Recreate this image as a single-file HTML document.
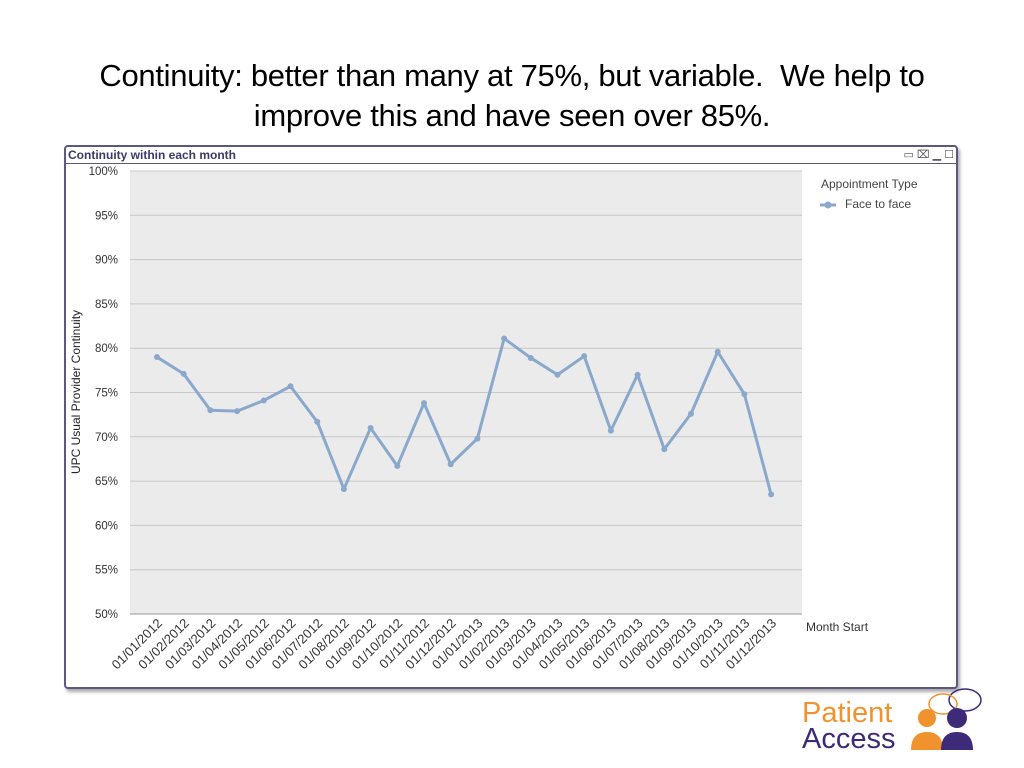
<!DOCTYPE html>
<html><head><meta charset="utf-8"><style>
body{margin:0;width:1024px;height:768px;background:#fff;font-family:"Liberation Sans",sans-serif;position:relative;overflow:hidden}
#title{position:absolute;left:0;width:1024px;top:56px;text-align:center;font-size:31px;line-height:40px;color:#000;font-family:"Liberation Sans",sans-serif;letter-spacing:-0.3px}
#box{position:absolute;left:64px;top:145px;width:890px;height:540px;border:2px solid #5c5880;border-radius:4px;box-shadow:2px 3px 3px #aaa;background:#fff}
#bar{position:absolute;left:0;top:0;right:0;height:16px;border-bottom:1px solid #5c5880;font-weight:bold;font-size:12px;color:#3b3a6b;padding-left:2px;line-height:16px}
</style></head><body>
<div id="title">Continuity: better than many at 75%, but variable.&nbsp; We help to<br>improve this and have seen over 85%.</div>
<div id="box">
<div id="bar">Continuity within each month</div>
<div style="position:absolute;right:2px;top:1px;font-size:11px;color:#555">▭ ⌧ ▁ ☐</div>
</div>
<svg id="chart" width="1024" height="768" style="position:absolute;left:0;top:0"></svg>
<div style="position:absolute;left:802px;top:700px;font-size:29px;line-height:26px;">
<div style="color:#f0922e">Patient</div><div style="color:#3d2a78">Access</div></div>
<svg width="80" height="70" style="position:absolute;left:905px;top:688px">
<ellipse cx="60" cy="12" rx="16" ry="11" fill="none" stroke="#3d2a78" stroke-width="1.5"/>
<ellipse cx="38" cy="16" rx="14" ry="10" fill="none" stroke="#f0922e" stroke-width="1.5"/>
<circle cx="22" cy="30" r="9" fill="#f0922e"/><path d="M6 62 Q6 44 22 44 Q38 44 38 62Z" fill="#f0922e"/>
<circle cx="52" cy="30" r="10" fill="#3d2a78"/><path d="M36 62 Q36 44 52 44 Q68 44 68 62Z" fill="#3d2a78"/>
</svg>
<script>
const categories=["01/01/2012","01/02/2012","01/03/2012","01/04/2012","01/05/2012","01/06/2012","01/07/2012","01/08/2012","01/09/2012","01/10/2012","01/11/2012","01/12/2012","01/01/2013","01/02/2013","01/03/2013","01/04/2013","01/05/2013","01/06/2013","01/07/2013","01/08/2013","01/09/2013","01/10/2013","01/11/2013","01/12/2013"];
const values=[79.0,77.1,73.0,72.9,74.1,75.7,71.7,64.1,71.0,66.7,73.8,66.9,69.8,81.1,78.9,77.0,79.1,70.7,77.0,68.6,72.6,79.6,74.8,63.5];
const yTicks=[50,55,60,65,70,75,80,85,90,95,100];
const svg=document.getElementById('chart');const NS='http://www.w3.org/2000/svg';
const L=130,R=802,T=171,B=614,ymin=50,ymax=100;
const y=v=>B-(v-ymin)/(ymax-ymin)*(B-T);
const step=26.7,x=i=>157+i*step;
function mk(t,a,p){const e=document.createElementNS(NS,t);for(const k in a)e.setAttribute(k,a[k]);(p||svg).appendChild(e);return e;}
const bg=mk('rect',{x:L,y:T,width:R-L,height:B-T,fill:'#ebebeb'});


yTicks.forEach(v=>{const g=mk('line',{x1:L,x2:R,y1:y(v),y2:y(v),stroke:'#c8c8c8'});


const t=mk('text',{x:118,y:y(v)+4,'text-anchor':'end','font-size':11.5,fill:'#333'});t.textContent=v+'%';

});
mk('line',{x1:L,x2:R,y1:B,y2:B,stroke:'#999'});
const yt=mk('text',{x:0,y:0,transform:'translate(80,392) rotate(-90)','text-anchor':'middle','font-size':12,fill:'#222'});yt.textContent='UPC Usual Provider Continuity';


categories.forEach((c,i)=>{const t=mk('text',{x:0,y:0,transform:`translate(${x(i)+6},${B+10}) rotate(-45)`,'text-anchor':'end','font-size':13,fill:'#333'});t.textContent=c;

});
const xt=mk('text',{x:806,y:631,'font-size':12,fill:'#333'});xt.textContent='Month Start';


const line=mk('polyline',{points:values.map((v,i)=>x(i)+','+y(v)).join(' '),fill:'none',stroke:'#8aa8cc','stroke-width':3,'stroke-linejoin':'round'});


values.forEach((v,i)=>{const p=mk('circle',{cx:x(i),cy:y(v),r:3,fill:'#8aa8cc'});

});
const lt=mk('text',{x:821,y:188,'font-size':12,fill:'#444'});lt.textContent='Appointment Type';


mk('line',{x1:820,x2:836,y1:205,y2:205,stroke:'#8aa8cc','stroke-width':3});
mk('circle',{cx:828,cy:205,r:3.5,fill:'#8aa8cc'});
const le=mk('text',{x:845,y:208,'font-size':12,fill:'#444'});le.textContent='Face to face';


</script>
</body></html>
